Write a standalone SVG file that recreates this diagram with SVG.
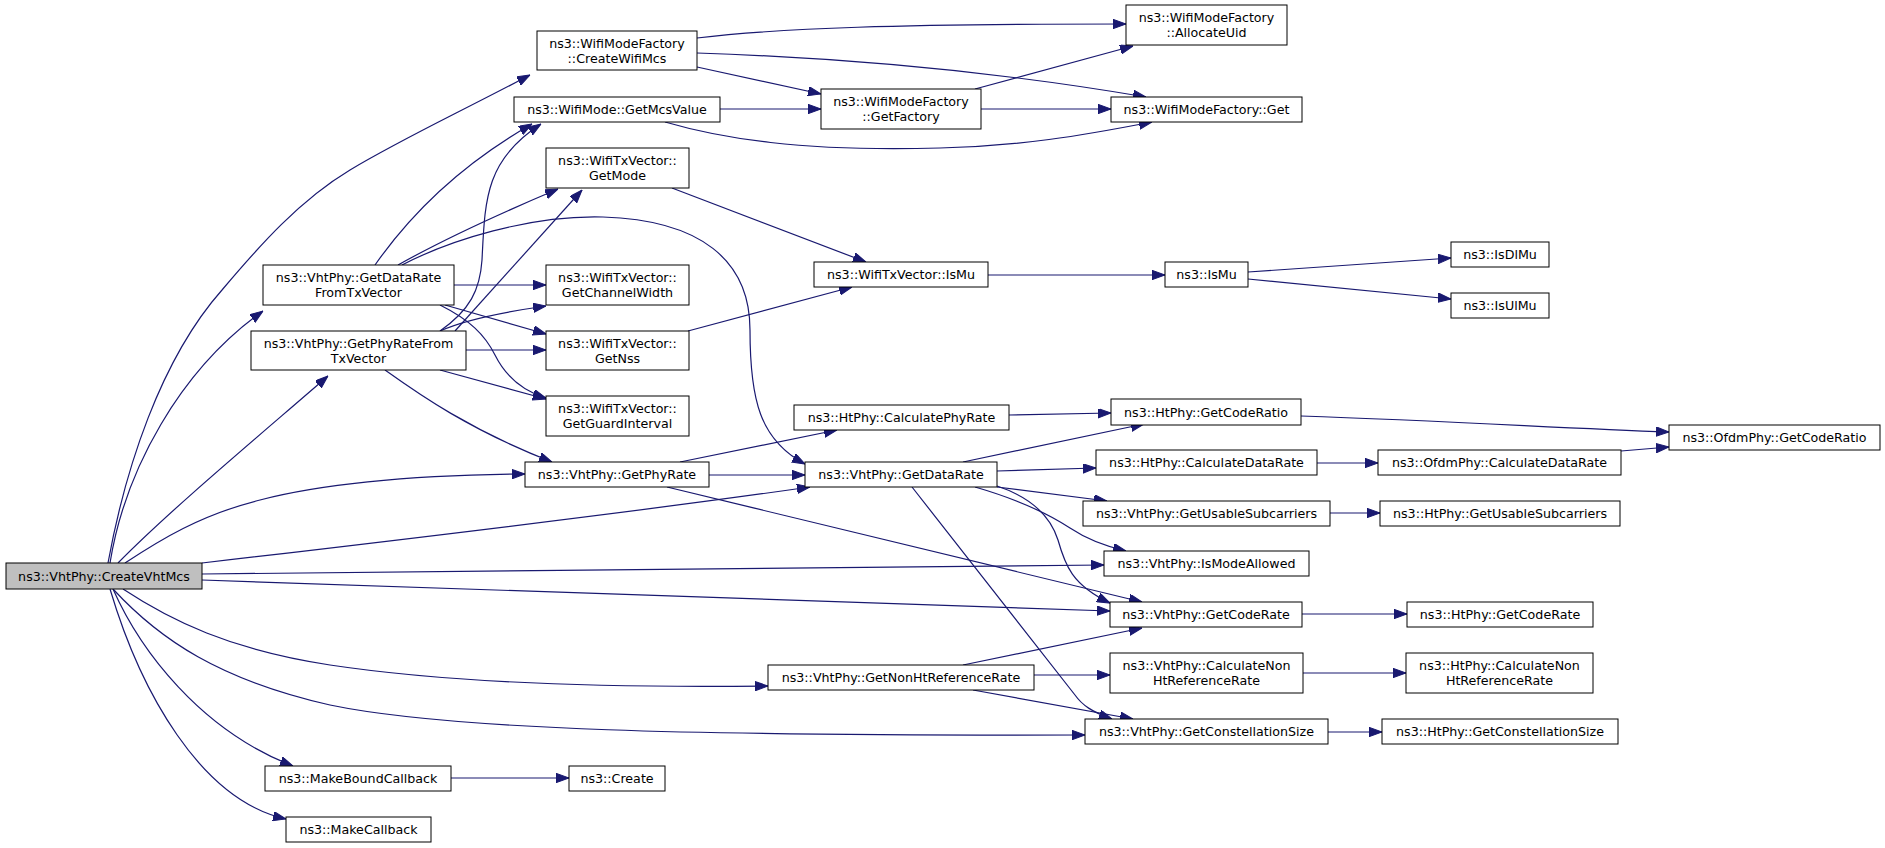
<svg xmlns="http://www.w3.org/2000/svg" width="1885" height="848" viewBox="0 0 1885 848">
<style>
.n rect{fill:#ffffff;stroke:#000000;stroke-width:1}
.n.root rect{fill:#bfbfbf}
.n text{font-family:"DejaVu Sans","Liberation Sans",sans-serif;font-size:12.67px;fill:#000000;text-anchor:middle}
#edges path{fill:none;stroke:#191970;stroke-width:1.2;marker-end:url(#ah)}
</style>
<defs>
<marker id="ah" markerWidth="13" markerHeight="10" refX="13" refY="4.7" orient="auto" markerUnits="userSpaceOnUse">
<path d="M0,0 L13,4.7 L0,9.4 z" fill="#191970" stroke="#191970" stroke-width="1"/>
</marker>
</defs>
<rect width="1885" height="848" fill="#ffffff"/>
<g id="edges">
<path d="M108,563 C125,470 160,360 222,290 C260,245 300,200 350,170 C400,140 450,117 530,75"/>
<path d="M110,563 C125,470 180,370 263,311"/>
<path d="M118,563 C170,510 260,435 328,376"/>
<path d="M125,563 C160,540 200,515 260,500 C330,482 420,475 525,474"/>
<path d="M202,563 C400,540 650,510 810,487"/>
<path d="M202,574 C500,571 800,566 1104,565"/>
<path d="M202,580 C500,590 800,602 1110,611"/>
<path d="M123,589 C170,620 230,650 330,665 C450,683 600,688 768,686"/>
<path d="M113,589 C160,640 220,680 330,705 C450,730 700,736 1085,735"/>
<path d="M113,589 C140,650 200,730 293,766"/>
<path d="M110,589 C140,690 200,800 286,819"/>
<path d="M697,38 C780,28 900,24 1126,24"/>
<path d="M697,53 C850,58 1000,72 1146,97"/>
<path d="M697,67 L821,94"/>
<path d="M720,109 L821,109"/>
<path d="M665,122 C720,138 800,152 940,148 C1020,146 1080,136 1152,122"/>
<path d="M975,89 L1133,46"/>
<path d="M981,109 L1111,109"/>
<path d="M988,275 L1165,275"/>
<path d="M1248,272 L1451,258"/>
<path d="M1248,279 L1451,299"/>
<path d="M672,188 L866,262"/>
<path d="M688,331 L852,287"/>
<path d="M454,285 L546,285"/>
<path d="M445,305 L546,334"/>
<path d="M440,305 C470,320 485,335 495,355 C505,375 520,390 546,398"/>
<path d="M375,265 C410,215 460,165 532,124"/>
<path d="M398,265 C430,247 480,222 558,189"/>
<path d="M402,265 C450,240 530,215 603,217 C700,220 750,260 750,330 C750,400 760,440 805,464"/>
<path d="M440,331 C470,310 480,290 482,260 C485,200 485,160 541,124"/>
<path d="M455,331 L582,190"/>
<path d="M440,331 C460,322 490,314 546,306"/>
<path d="M466,350 L546,350"/>
<path d="M440,370 L546,399"/>
<path d="M385,370 C420,395 470,430 552,462"/>
<path d="M680,462 L837,430"/>
<path d="M709,475 L805,475"/>
<path d="M667,487 L1142,602"/>
<path d="M1009,415 L1111,413"/>
<path d="M1301,416 C1450,421 1560,428 1669,432"/>
<path d="M963,462 L1144,424"/>
<path d="M997,471 L1096,468"/>
<path d="M1317,463 L1378,463"/>
<path d="M1621,451 L1669,447"/>
<path d="M997,487 L1107,501"/>
<path d="M1330,513 L1380,513"/>
<path d="M975,487 C1020,500 1050,515 1070,528 C1085,538 1100,545 1126,551"/>
<path d="M997,486 C1030,497 1050,515 1058,540 C1065,565 1072,585 1110,603"/>
<path d="M912,487 L1075,695 C1082,705 1092,712 1112,719"/>
<path d="M1302,614 L1407,614"/>
<path d="M963,665 L1142,628"/>
<path d="M1034,675 L1110,675"/>
<path d="M973,690 L1133,719"/>
<path d="M1303,673 L1406,673"/>
<path d="M1328,732 L1382,732"/>
<path d="M451,778 L569,778"/>
</g>
<g id="n0" class="n root"><rect x="6" y="563" width="196" height="26"/><text x="104" y="580.5">ns3::VhtPhy::CreateVhtMcs</text></g>
<g id="n1" class="n"><rect x="537" y="31" width="160" height="39"/><text x="617" y="47.5">ns3::WifiModeFactory</text><text x="617" y="62.5">::CreateWifiMcs</text></g>
<g id="n2" class="n"><rect x="1126" y="5" width="161" height="40"/><text x="1206.5" y="22">ns3::WifiModeFactory</text><text x="1206.5" y="37">::AllocateUid</text></g>
<g id="n3" class="n"><rect x="1111" y="97" width="191" height="25"/><text x="1206.5" y="114">ns3::WifiModeFactory::Get</text></g>
<g id="n4" class="n"><rect x="821" y="89" width="160" height="40"/><text x="901" y="106">ns3::WifiModeFactory</text><text x="901" y="121">::GetFactory</text></g>
<g id="n5" class="n"><rect x="514" y="97" width="206" height="25"/><text x="617" y="114">ns3::WifiMode::GetMcsValue</text></g>
<g id="n6" class="n"><rect x="546" y="148" width="143" height="40"/><text x="617.5" y="165">ns3::WifiTxVector::</text><text x="617.5" y="180">GetMode</text></g>
<g id="n7" class="n"><rect x="263" y="265" width="191" height="40"/><text x="358.5" y="282">ns3::VhtPhy::GetDataRate</text><text x="358.5" y="297">FromTxVector</text></g>
<g id="n8" class="n"><rect x="546" y="265" width="143" height="40"/><text x="617.5" y="282">ns3::WifiTxVector::</text><text x="617.5" y="297">GetChannelWidth</text></g>
<g id="n9" class="n"><rect x="814" y="262" width="174" height="25"/><text x="901" y="279">ns3::WifiTxVector::IsMu</text></g>
<g id="n10" class="n"><rect x="1165" y="262" width="83" height="25"/><text x="1206.5" y="279">ns3::IsMu</text></g>
<g id="n11" class="n"><rect x="1451" y="242" width="98" height="25"/><text x="1500" y="259">ns3::IsDlMu</text></g>
<g id="n12" class="n"><rect x="1451" y="293" width="98" height="25"/><text x="1500" y="310">ns3::IsUlMu</text></g>
<g id="n13" class="n"><rect x="251" y="331" width="215" height="39"/><text x="358.5" y="347.5">ns3::VhtPhy::GetPhyRateFrom</text><text x="358.5" y="362.5">TxVector</text></g>
<g id="n14" class="n"><rect x="546" y="331" width="143" height="39"/><text x="617.5" y="347.5">ns3::WifiTxVector::</text><text x="617.5" y="362.5">GetNss</text></g>
<g id="n15" class="n"><rect x="546" y="396" width="143" height="40"/><text x="617.5" y="413">ns3::WifiTxVector::</text><text x="617.5" y="428">GetGuardInterval</text></g>
<g id="n16" class="n"><rect x="794" y="405" width="215" height="25"/><text x="901.5" y="422">ns3::HtPhy::CalculatePhyRate</text></g>
<g id="n17" class="n"><rect x="1111" y="399" width="190" height="26"/><text x="1206" y="416.5">ns3::HtPhy::GetCodeRatio</text></g>
<g id="n18" class="n"><rect x="1669" y="425" width="211" height="25"/><text x="1774.5" y="442">ns3::OfdmPhy::GetCodeRatio</text></g>
<g id="n19" class="n"><rect x="525" y="462" width="184" height="25"/><text x="617" y="479">ns3::VhtPhy::GetPhyRate</text></g>
<g id="n20" class="n"><rect x="805" y="462" width="192" height="25"/><text x="901" y="479">ns3::VhtPhy::GetDataRate</text></g>
<g id="n21" class="n"><rect x="1096" y="450" width="221" height="25"/><text x="1206.5" y="467">ns3::HtPhy::CalculateDataRate</text></g>
<g id="n22" class="n"><rect x="1378" y="450" width="243" height="25"/><text x="1499.5" y="467">ns3::OfdmPhy::CalculateDataRate</text></g>
<g id="n23" class="n"><rect x="1083" y="501" width="247" height="25"/><text x="1206.5" y="518">ns3::VhtPhy::GetUsableSubcarriers</text></g>
<g id="n24" class="n"><rect x="1380" y="501" width="240" height="25"/><text x="1500" y="518">ns3::HtPhy::GetUsableSubcarriers</text></g>
<g id="n25" class="n"><rect x="1104" y="551" width="205" height="25"/><text x="1206.5" y="568">ns3::VhtPhy::IsModeAllowed</text></g>
<g id="n26" class="n"><rect x="1110" y="602" width="192" height="25"/><text x="1206" y="619">ns3::VhtPhy::GetCodeRate</text></g>
<g id="n27" class="n"><rect x="1407" y="602" width="186" height="25"/><text x="1500" y="619">ns3::HtPhy::GetCodeRate</text></g>
<g id="n28" class="n"><rect x="768" y="665" width="266" height="25"/><text x="901" y="682">ns3::VhtPhy::GetNonHtReferenceRate</text></g>
<g id="n29" class="n"><rect x="1110" y="653" width="193" height="40"/><text x="1206.5" y="670">ns3::VhtPhy::CalculateNon</text><text x="1206.5" y="685">HtReferenceRate</text></g>
<g id="n30" class="n"><rect x="1406" y="653" width="187" height="40"/><text x="1499.5" y="670">ns3::HtPhy::CalculateNon</text><text x="1499.5" y="685">HtReferenceRate</text></g>
<g id="n31" class="n"><rect x="1085" y="719" width="243" height="25"/><text x="1206.5" y="736">ns3::VhtPhy::GetConstellationSize</text></g>
<g id="n32" class="n"><rect x="1382" y="719" width="236" height="25"/><text x="1500" y="736">ns3::HtPhy::GetConstellationSize</text></g>
<g id="n33" class="n"><rect x="265" y="766" width="186" height="25"/><text x="358" y="783">ns3::MakeBoundCallback</text></g>
<g id="n34" class="n"><rect x="569" y="766" width="96" height="25"/><text x="617" y="783">ns3::Create</text></g>
<g id="n35" class="n"><rect x="286" y="817" width="145" height="25"/><text x="358.5" y="834">ns3::MakeCallback</text></g>
</svg>
